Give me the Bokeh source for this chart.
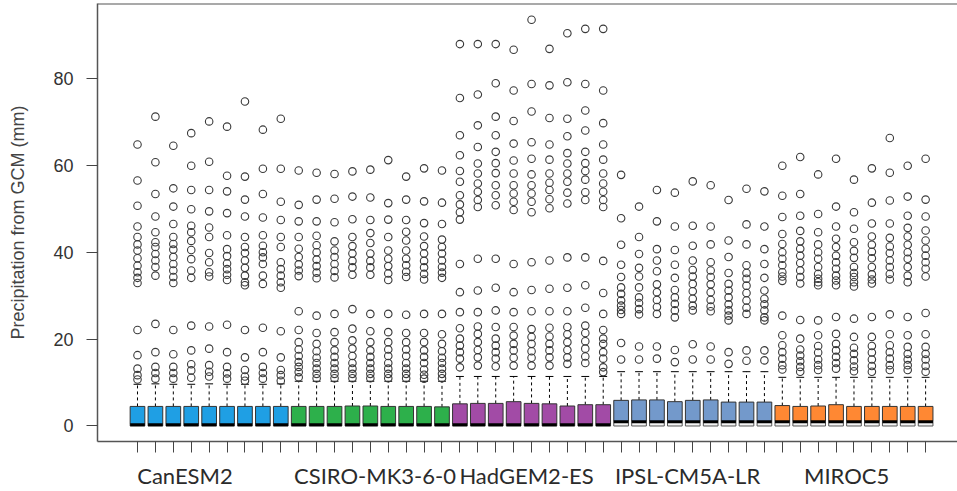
from bokeh.plotting import figure
from bokeh.models import ColumnDataSource, Range1d, FixedTicker, Span, LinearAxis
from bokeh.embed import file_html
from bokeh.resources import INLINE

# ---------------- data ----------------
groups = ["CanESM2", "CSIRO-MK3-6-0", "HadGEM2-ES", "IPSL-CM5A-LR", "MIROC5"]
group_colors = ["#1f9fe4", "#2db04b", "#a24ba6", "#7399cb", "#ff8833"]

q1_vals = [0.0] * 45  # lower quartile (dry days) for every run

median_vals = [
    0.3, 0.3, 0.3, 0.3, 0.3, 0.3, 0.3, 0.3, 0.3,
    0.3, 0.3, 0.3, 0.3, 0.3, 0.3, 0.3, 0.3, 0.3,
    0.3, 0.3, 0.3, 0.3, 0.3, 0.3, 0.3, 0.3, 0.3,
    1.0, 1.0, 1.0, 1.0, 1.0, 1.0, 1.0, 1.0, 1.0,
    1.0, 1.0, 1.0, 1.0, 1.0, 1.0, 1.0, 1.0, 1.0,
]
q3_vals = [
    4.5, 4.5, 4.5, 4.5, 4.5, 4.5, 4.5, 4.5, 4.5,
    4.5, 4.5, 4.5, 4.6, 4.6, 4.5, 4.5, 4.5, 4.4,
    5.1, 5.2, 5.2, 5.6, 5.2, 5.1, 4.6, 4.9, 4.9,
    5.9, 6.0, 6.0, 5.6, 5.9, 6.0, 5.5, 5.5, 5.5,
    4.7, 4.5, 4.6, 4.9, 4.5, 4.5, 4.5, 4.5, 4.5,
]
whisker_hi = [
    9.6, 9.7, 9.6, 9.6, 9.7, 9.6, 9.6, 9.6, 9.7,
    10.3, 10.3, 10.3, 10.3, 10.3, 10.3, 10.3, 10.3, 10.3,
    11.4, 11.4, 11.4, 11.4, 11.4, 11.4, 11.4, 11.4, 11.4,
    12.5, 12.5, 12.5, 12.5, 12.5, 12.5, 12.5, 12.5, 12.5,
    11.2, 11.2, 11.2, 11.2, 11.2, 11.2, 11.2, 11.2, 11.2,
]

outliers_canesm2 = [
    [64.8, 56.5, 50.7, 45.9, 43.5, 41.8, 40.4, 38.6, 36.9, 35.4, 34.1, 32.9, 22.1, 16.3, 13.2, 11.7, 10.7],
    [71.2, 60.7, 53.4, 48.2, 44.6, 42.3, 41.2, 39.6, 38.1, 36.6, 34.6, 23.5, 17.0, 13.6, 12.2, 10.9],
    [64.5, 54.7, 50.5, 46.5, 43.5, 41.9, 40.6, 38.9, 37.3, 35.8, 34.3, 32.9, 22.1, 16.5, 13.6, 12.2, 10.9],
    [67.4, 59.9, 54.3, 49.9, 46.1, 44.6, 42.6, 40.5, 38.4, 35.8, 34.1, 23.1, 17.4, 14.2, 12.8, 11.1],
    [70.1, 60.8, 54.3, 49.4, 45.7, 43.5, 39.8, 37.7, 35.4, 34.4, 22.9, 17.8, 14.0, 12.5, 11.4],
    [68.9, 57.6, 54.0, 49.0, 43.9, 40.7, 39.1, 37.4, 36.1, 34.8, 33.6, 23.3, 17.0, 13.6, 12.1, 10.9],
    [74.7, 57.4, 52.1, 48.2, 43.5, 41.2, 39.8, 38.1, 36.4, 34.6, 33.1, 32.4, 22.1, 15.8, 12.9, 11.4, 10.4],
    [68.2, 59.2, 53.4, 48.0, 43.9, 41.5, 40.0, 38.8, 37.3, 34.6, 32.7, 22.6, 17.0, 13.6, 12.2, 10.9],
    [70.7, 59.2, 51.6, 47.4, 43.5, 41.2, 37.7, 36.1, 34.6, 33.1, 31.8, 21.8, 15.8, 12.9, 11.7, 10.4],
]
outliers_csiro = [
    [58.8, 50.9, 47.1, 43.5, 40.8, 38.9, 37.2, 35.8, 34.5, 26.4, 22.1, 19.3, 17.6, 16.1, 14.7, 13.6, 12.4, 11.2],
    [58.3, 52.1, 47.1, 43.8, 41.6, 40.0, 38.3, 36.8, 35.3, 34.0, 25.4, 21.4, 18.9, 17.2, 15.7, 14.5, 13.2, 12.0, 11.0],
    [58.0, 52.3, 46.9, 42.5, 40.4, 38.9, 37.3, 35.7, 34.2, 25.8, 21.6, 19.3, 17.4, 15.9, 14.5, 13.2, 12.0, 11.0],
    [58.6, 52.8, 47.6, 43.5, 41.4, 39.7, 38.0, 36.5, 34.8, 26.9, 22.4, 19.7, 17.8, 16.1, 14.5, 13.2, 12.0, 11.0],
    [59.0, 52.6, 47.4, 44.4, 42.1, 39.7, 38.0, 36.5, 34.8, 25.8, 21.8, 19.3, 17.4, 15.9, 14.5, 13.2, 12.0, 11.0],
    [61.2, 51.3, 47.5, 43.5, 40.4, 38.5, 36.8, 35.1, 33.6, 25.8, 21.6, 19.3, 17.6, 16.1, 14.5, 13.2, 12.0, 11.0],
    [57.4, 52.1, 47.4, 44.7, 42.7, 40.4, 38.5, 37.0, 35.5, 34.3, 25.6, 21.4, 19.3, 17.6, 16.1, 14.5, 13.2, 12.0, 11.0],
    [59.3, 51.7, 46.7, 43.6, 41.4, 39.7, 38.0, 36.5, 35.0, 33.7, 25.8, 21.4, 19.3, 17.4, 15.9, 14.5, 13.0, 11.8, 10.9],
    [58.8, 51.4, 46.5, 42.9, 41.2, 39.7, 38.1, 36.6, 35.3, 34.1, 25.8, 21.1, 18.9, 17.2, 15.7, 14.5, 13.2, 12.0, 11.0],
]
outliers_hadgem = [
    [87.9, 75.5, 66.9, 62.3, 58.7, 56.2, 53.1, 51.0, 49.2, 47.5, 37.3, 30.8, 26.2, 22.5, 20.1, 18.5, 17.0, 15.5, 13.5],
    [87.9, 76.3, 69.2, 64.2, 60.4, 58.1, 55.8, 53.9, 52.0, 50.4, 38.5, 31.2, 26.2, 22.9, 21.2, 19.3, 17.5, 15.8, 13.9],
    [87.9, 78.9, 71.2, 66.9, 63.1, 60.5, 58.2, 55.4, 53.1, 50.8, 38.5, 31.8, 26.6, 22.8, 20.1, 18.5, 17.0, 15.5, 13.7],
    [86.6, 77.2, 70.2, 65.0, 61.1, 58.1, 55.4, 53.5, 51.6, 49.7, 37.3, 30.8, 26.2, 22.8, 20.8, 18.9, 17.4, 15.7, 13.9],
    [93.5, 78.7, 72.4, 65.3, 61.5, 57.9, 55.4, 53.5, 51.6, 49.2, 37.7, 31.3, 26.4, 22.3, 20.5, 18.9, 17.2, 15.7, 13.9],
    [86.8, 78.4, 70.9, 64.8, 61.3, 58.1, 56.0, 54.3, 52.2, 50.1, 38.1, 31.6, 26.4, 22.6, 20.6, 18.9, 17.4, 15.8, 13.9],
    [90.4, 79.1, 70.7, 66.7, 62.8, 60.4, 58.1, 56.2, 53.7, 51.2, 38.8, 31.8, 26.4, 22.8, 21.1, 19.3, 17.5, 15.8, 14.3],
    [91.4, 78.7, 72.6, 68.0, 63.1, 60.5, 58.7, 56.7, 53.8, 52.0, 38.8, 32.4, 27.2, 23.1, 21.4, 19.5, 17.8, 16.0, 14.5],
    [91.4, 77.2, 69.7, 64.8, 61.3, 58.1, 55.8, 53.9, 52.0, 50.4, 38.0, 30.6, 25.8, 22.1, 20.1, 18.9, 17.0, 15.5, 13.5, 12.4],
]
outliers_ipsl = [
    [57.8, 47.8, 41.7, 37.1, 34.3, 31.9, 30.4, 28.9, 27.7, 26.7, 25.8, 19.1, 15.3],
    [50.5, 43.5, 39.6, 36.4, 34.4, 31.9, 29.6, 28.3, 26.9, 25.7, 18.3, 15.3],
    [54.3, 47.1, 40.7, 38.1, 35.6, 32.6, 30.8, 29.0, 27.4, 25.8, 18.3, 15.5],
    [53.7, 45.9, 40.5, 37.1, 34.1, 31.3, 29.6, 28.1, 26.6, 25.0, 17.5, 14.7],
    [56.3, 46.1, 41.5, 38.1, 35.9, 34.4, 32.7, 31.0, 29.3, 27.7, 26.6, 18.8, 15.3],
    [55.4, 45.9, 41.8, 37.7, 35.8, 34.3, 32.6, 30.8, 29.0, 27.5, 26.4, 18.3, 15.3],
    [52.0, 42.7, 38.9, 35.2, 32.7, 31.2, 29.6, 28.0, 26.6, 25.4, 24.3, 17.0, 14.3],
    [54.6, 46.4, 41.8, 37.0, 35.2, 33.9, 32.3, 30.6, 28.9, 27.2, 25.8, 17.4, 15.0],
    [54.0, 45.9, 40.7, 37.3, 34.1, 31.2, 29.3, 28.0, 26.6, 25.0, 24.3, 17.4, 15.1],
]
outliers_miroc5 = [
    [59.9, 53.0, 48.1, 44.2, 41.9, 40.0, 38.5, 37.0, 35.4, 34.4, 33.4, 25.4, 20.9, 18.6, 17.0, 15.5, 14.0, 13.0],
    [61.9, 53.4, 48.4, 44.9, 42.5, 40.8, 39.2, 37.5, 35.8, 34.3, 32.8, 24.4, 20.1, 17.6, 16.2, 14.9, 13.6, 12.5],
    [57.9, 48.8, 44.6, 41.8, 40.0, 38.5, 36.6, 35.0, 33.9, 33.1, 32.4, 24.3, 20.9, 18.4, 16.9, 15.3, 14.0, 12.9],
    [61.5, 50.5, 45.9, 43.1, 41.2, 39.2, 37.7, 36.2, 34.6, 33.5, 32.4, 25.1, 21.2, 18.9, 17.4, 15.9, 14.5, 13.2],
    [56.7, 49.2, 45.4, 42.3, 40.3, 38.7, 36.6, 35.2, 34.3, 33.1, 32.1, 24.7, 20.5, 18.0, 16.6, 15.1, 13.7, 12.6],
    [59.3, 51.4, 46.6, 43.6, 41.7, 40.1, 38.6, 36.6, 34.9, 33.7, 32.8, 25.1, 20.5, 18.4, 16.9, 15.3, 13.8, 12.5],
    [66.3, 58.3, 51.9, 46.6, 43.3, 41.3, 39.8, 38.1, 36.6, 35.0, 33.7, 25.7, 21.1, 18.6, 17.0, 15.5, 14.0, 12.9],
    [59.9, 52.8, 48.4, 45.6, 43.6, 41.7, 40.0, 38.5, 36.6, 34.6, 33.1, 25.1, 20.9, 18.2, 16.6, 15.3, 14.0, 12.9],
    [61.5, 52.1, 48.2, 45.0, 42.7, 40.8, 39.2, 37.7, 36.2, 34.4, 26.0, 21.1, 18.2, 16.6, 15.3, 13.8, 12.5],
]
all_outliers = outliers_canesm2 + outliers_csiro + outliers_hadgem + outliers_ipsl + outliers_miroc5

y_ticks = [0, 20, 40, 60, 80]
y_label = "Precipitation from GCM (mm)"

# ---------------- layout constants ----------------
n_per_group = 9
positions = list(range(1, len(q3_vals) + 1))
box_half = 0.41
cap_half = 0.22
label_centers = [3.65, 14.26, 22.72, 31.71, 40.59]
Y_TOP = 97.24

colors = []
for g in range(len(groups)):
    colors += [group_colors[g]] * n_per_group

src = ColumnDataSource(dict(
    x=positions,
    left=[x - box_half for x in positions],
    right=[x + box_half for x in positions],
    cl=[x - cap_half for x in positions],
    cr=[x + cap_half for x in positions],
    q1=q1_vals, med=median_vals, q3=q3_vals, whi=whisker_hi, color=colors,
))

ox, oy = [], []
for x, vals in zip(positions, all_outliers):
    ox += [x] * len(vals)
    oy += vals

p = figure(width=957, height=491, output_backend="svg", toolbar_location=None,
           x_range=Range1d(-1.233, 46.78), y_range=Range1d(-3.57, Y_TOP),
           min_border_left=97, min_border_right=0, min_border_top=3, min_border_bottom=50)
p.xgrid.visible = False
p.ygrid.visible = False
p.outline_line_color = None
p.background_fill_color = "white"
p.border_fill_color = "white"

# x axis: tick marks only (empty labels)
p.xaxis.ticker = FixedTicker(ticks=positions)
p.xaxis.major_label_overrides = {x: "" for x in positions}
p.xaxis.major_tick_out = 11
p.xaxis.major_tick_in = 0
p.xaxis.minor_tick_line_color = None
p.xaxis.major_label_text_font_size = "1px"
p.xaxis.major_label_standoff = 0
p.xaxis.axis_line_color = "#555555"
p.xaxis.axis_line_width = 1.5
p.xaxis.major_tick_line_color = "#444444"

# second x axis carrying the model names
name_axis = LinearAxis(ticker=FixedTicker(ticks=label_centers),
                       major_label_overrides={c: n for c, n in zip(label_centers, groups)})
name_axis.axis_line_color = None
name_axis.major_tick_line_color = None
name_axis.minor_tick_line_color = None
name_axis.major_tick_out = 0
name_axis.major_tick_in = 0
name_axis.major_label_standoff = 9
name_axis.major_label_text_font = "Lato"
name_axis.major_label_text_font_size = "22px"
name_axis.major_label_text_color = "#2b2b2b"
p.add_layout(name_axis, "below")

# y axis
p.yaxis.ticker = FixedTicker(ticks=y_ticks)
p.yaxis.major_tick_out = 11
p.yaxis.major_tick_in = 0
p.yaxis.minor_tick_line_color = None
p.yaxis.major_label_standoff = 13
p.yaxis.major_label_text_font = "Liberation Sans"
p.yaxis.major_label_text_font_size = "18px"
p.yaxis.major_label_text_color = "#333333"
p.yaxis.axis_line_color = "#555555"
p.yaxis.axis_line_width = 1.5
p.yaxis.major_tick_line_color = "#444444"
p.yaxis.axis_label = y_label
p.yaxis.axis_label_text_font = "Liberation Sans"
p.yaxis.axis_label_text_font_size = "18px"
p.yaxis.axis_label_text_font_style = "normal"
p.yaxis.axis_label_text_color = "#444444"
p.yaxis.axis_label_standoff = 22

# top border line
p.add_layout(Span(location=Y_TOP, dimension="width", line_color="#555555", line_width=2))

# whiskers and caps
p.segment(x0="x", y0="q3", x1="x", y1="whi", source=src, line_color="black",
          line_width=1, line_dash="3 3")
p.segment(x0="cl", y0="whi", x1="cr", y1="whi", source=src, line_color="black", line_width=1)

# boxes
p.quad(left="left", right="right", bottom="med", top="q3", source=src,
       fill_color="color", line_color="#333333", line_width=1)
p.quad(left="left", right="right", bottom="q1", top="med", source=src,
       fill_color="#f4f4f4", line_color="#555555", line_width=1)
p.segment(x0="left", y0="med", x1="right", y1="med", source=src,
          line_color="black", line_width=3)

# outliers
p.scatter(ox, oy, marker="circle", size=7.5, fill_color=None,
          line_color="#3a3a3a", line_width=1.1)

open("out.html", "w").write(file_html(p, INLINE))
